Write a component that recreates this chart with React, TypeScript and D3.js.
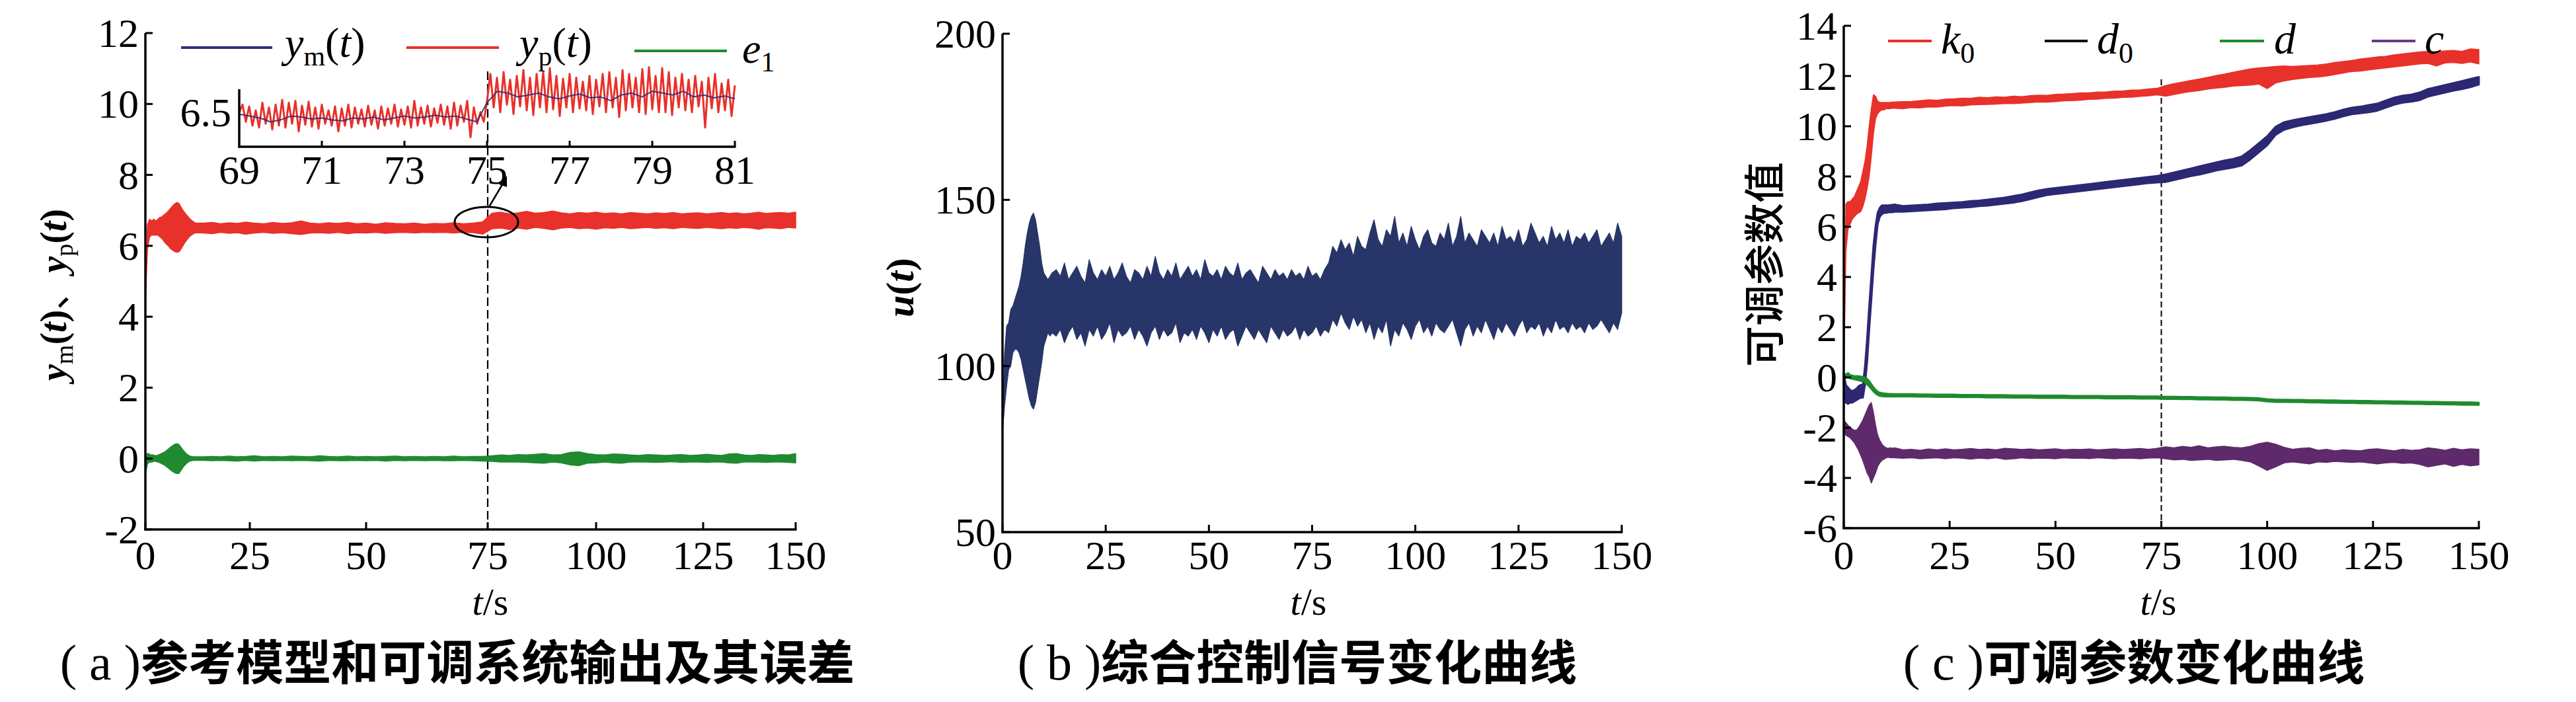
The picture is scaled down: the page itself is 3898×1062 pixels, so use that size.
import React from 'react';
import * as d3 from 'd3';

// ---------- DATA ----------
const T_MAIN = [0,0.5,1,1.5,2,2.5,3,3.5,4,4.5,5,5.5,6,6.5,7,7.5,8,8.5,9,9.5,10,10.5,11,11.5,12,14,16,18,20,22,24,26,28,30,32,34,36,38,40,42,44,46,48,50,52,54,56,58,60,62,64,66,68,70,72,74,76,78,80,82,84,86,88,90,92,94,96,98,100,102,104,106,108,110,112,114,116,118,120,122,124,126,128,130,132,134,136,138,140,142,144,146,148,150];

const T_U = [0,0.5,1,1.5,2,2.5,3,3.5,4,4.5,5,5.5,6,6.5,7,7.5,8,8.5,9,9.5,10,10.5,11,11.5,12,13,14,15,16,17,18,19,20,21,22,23,24,25,26,27,28,29,30,31,32,33,34,35,36,37,38,39,40,41,42,43,44,45,46,47,48,49,50,51,52,53,54,55,56,57,58,59,60,61,62,63,64,65,66,67,68,69,70,71,72,73,74,75,76,77,78,79,80,81,82,83,84,85,86,87,88,89,90,91,92,93,94,95,96,97,98,99,100,101,102,103,104,105,106,107,108,109,110,111,112,113,114,115,116,117,118,119,120,121,122,123,124,125,126,127,128,129,130,131,132,133,134,135,136,137,138,139,140,141,142,143,144,145,146,147,148,149,150];

// (a) y_p(t) envelope
const YP_HI = [4.6,6.6,6.75,6.7,6.75,6.7,6.75,6.8,6.82,6.88,6.92,6.98,7.05,7.12,7.18,7.22,7.2,7.1,7.0,6.92,6.85,6.78,6.72,6.68,6.64,
  6.64,6.66,6.62,6.65,6.63,6.67,6.64,6.62,6.66,6.63,6.65,6.70,6.64,6.62,6.65,6.63,6.66,6.62,6.64,6.61,6.65,6.63,6.62,6.64,6.61,6.63,6.62,6.65,6.62,6.64,6.68,
  6.92,6.95,6.9,6.93,6.97,6.92,6.94,6.98,6.93,6.9,6.94,6.92,6.95,6.91,6.93,6.9,6.94,6.92,6.9,6.93,6.91,6.94,6.9,6.92,6.93,6.9,6.92,6.94,6.91,6.93,6.9,6.92,6.95,6.91,6.93,6.94,6.92,6.95];
const YP_LO = [4.4,5.9,6.25,6.3,6.3,6.3,6.3,6.25,6.2,6.12,6.05,6.0,5.92,5.88,5.84,5.82,5.83,5.9,6.0,6.1,6.18,6.25,6.3,6.34,6.37,
  6.36,6.34,6.38,6.35,6.37,6.33,6.36,6.38,6.35,6.37,6.34,6.32,6.36,6.37,6.35,6.38,6.34,6.37,6.36,6.38,6.35,6.37,6.38,6.36,6.38,6.37,6.38,6.36,6.38,6.37,6.33,
  6.48,6.5,6.46,6.5,6.47,6.52,6.49,6.45,6.5,6.52,6.48,6.5,6.47,6.51,6.49,6.52,6.48,6.5,6.52,6.49,6.51,6.48,6.52,6.5,6.49,6.52,6.5,6.48,6.51,6.49,6.52,6.5,6.47,6.51,6.5,6.48,6.52,6.5];
// (a) e1 envelope
const E1_HI = [0.0,0.15,0.12,0.1,0.1,0.08,0.1,0.12,0.15,0.18,0.22,0.27,0.32,0.36,0.4,0.42,0.4,0.32,0.24,0.17,0.12,0.08,0.06,0.05,0.05,
  0.05,0.06,0.05,0.07,0.05,0.06,0.08,0.05,0.06,0.05,0.07,0.06,0.05,0.08,0.06,0.05,0.07,0.05,0.06,0.05,0.06,0.07,0.05,0.06,0.05,0.06,0.05,0.07,0.05,0.06,0.06,
  0.08,0.1,0.09,0.11,0.1,0.12,0.14,0.1,0.11,0.17,0.19,0.14,0.11,0.1,0.13,0.12,0.1,0.09,0.11,0.1,0.09,0.1,0.11,0.09,0.1,0.12,0.1,0.09,0.13,0.14,0.1,0.09,0.11,0.1,0.09,0.11,0.1,0.14];
const E1_LO = [-0.45,-0.15,-0.1,-0.1,-0.08,-0.08,-0.1,-0.12,-0.15,-0.18,-0.22,-0.27,-0.32,-0.36,-0.4,-0.42,-0.42,-0.34,-0.25,-0.18,-0.12,-0.08,-0.06,-0.05,-0.05,
  -0.05,-0.06,-0.05,-0.06,-0.07,-0.05,-0.07,-0.05,-0.06,-0.05,-0.06,-0.05,-0.06,-0.07,-0.05,-0.06,-0.06,-0.05,-0.06,-0.05,-0.07,-0.05,-0.06,-0.05,-0.06,-0.05,-0.06,-0.06,-0.05,-0.06,-0.07,
  -0.08,-0.1,-0.1,-0.1,-0.11,-0.12,-0.13,-0.1,-0.12,-0.18,-0.2,-0.13,-0.12,-0.1,-0.12,-0.13,-0.1,-0.1,-0.1,-0.11,-0.1,-0.09,-0.11,-0.1,-0.1,-0.11,-0.1,-0.1,-0.12,-0.13,-0.1,-0.1,-0.1,-0.11,-0.1,-0.1,-0.11,-0.12];

// (a) inset: y_p(t) sampled every 0.08 s from 69 s, y_m(t) every 0.25 s
const INSET_T0 = 69;
const INSET_YP_DT = 0.08;
const INSET_YP = [6.50,6.58,6.40,6.56,6.36,6.52,6.34,6.60,6.38,6.55,6.32,6.58,6.36,6.63,6.34,6.60,6.38,6.62,6.30,6.57,6.37,6.61,6.35,6.55,6.33,6.58,6.38,6.52,6.36,6.56,6.30,6.54,6.36,6.58,6.34,6.55,6.38,6.53,6.35,6.57,6.37,6.52,6.33,6.56,6.36,6.54,6.38,6.58,6.35,6.53,6.37,6.56,6.34,6.62,6.36,6.55,6.38,6.57,6.35,6.54,6.39,6.58,6.37,6.56,6.33,6.60,6.36,6.57,6.40,6.62,6.24,6.55,6.38,6.50,6.40,
  6.62,
  6.90,6.55,6.86,6.50,6.92,6.58,6.84,6.48,6.88,6.56,
  6.94,6.52,6.86,6.47,6.90,6.55,6.92,6.50,6.96,6.53,
  6.88,6.46,6.85,6.55,6.90,6.50,6.86,6.54,6.82,6.52,
  6.88,6.48,6.84,6.56,6.90,6.50,6.92,6.55,6.86,6.45,
  6.94,6.52,6.90,6.55,6.86,6.50,6.95,6.48,6.97,6.53,
  6.88,6.50,6.96,6.50,6.92,6.47,6.86,6.55,6.90,6.52,
  6.84,6.50,6.88,6.56,6.82,6.34,6.86,6.54,6.90,6.50,
  6.80,6.52,6.84,6.46,6.78];
const INSET_YM_DT = 0.25;
const INSET_YM = [6.48,6.46,6.44,6.40,6.42,6.46,6.45,6.43,6.44,6.42,6.41,6.44,6.43,6.45,6.42,6.44,6.46,6.44,6.45,6.47,6.45,6.46,6.43,6.40,
  6.60,
  6.72,6.70,6.66,6.68,6.70,6.66,6.64,6.67,6.69,6.65,6.66,6.62,6.68,6.70,6.66,6.72,6.70,6.68,6.72,6.66,6.68,6.65,6.67,6.64];

// (b) u(t) envelope
const U_HI = [86,104,112,113,117,118,120,122,124,127,131,136,140,143,145,146,144,140,136,131,128,127,126,127,128,
  129,127,131,126,128,130,127,125,132,128,126,129,127,130,126,128,131,127,125,129,128,126,130,127,133,128,126,129,127,131,126,128,130,127,129,126,132,128,127,129,126,130,128,127,131,126,128,129,127,125,130,128,126,129,127,128,126,129,127,128,126,130,127,128,126,129,131,
  136,134,138,135,137,133,139,136,135,140,144,138,136,141,139,145,137,140,136,142,138,135,139,141,137,136,140,138,143,136,139,145,137,140,138,136,141,139,137,140,136,142,138,139,137,141,136,138,143,140,137,139,136,142,138,140,137,141,136,139,138,140,137,139,141,136,138,140,137,143,139];
const U_LO = [80,88,94,99,100,104,105,105,104,102,99,96,93,90,88,87,89,93,97,101,106,108,110,109,110,
  109,111,107,110,112,108,110,106,111,109,112,108,110,113,107,111,109,110,112,108,111,109,106,110,112,108,111,109,110,113,107,110,109,111,108,112,110,107,111,109,112,108,110,111,106,109,112,110,108,111,109,107,112,110,108,111,109,110,112,108,111,109,110,112,109,111,110,
  114,112,116,113,111,115,112,114,110,113,108,112,110,114,106,111,109,113,111,108,112,114,110,112,109,113,111,110,112,114,110,106,111,113,109,112,110,114,111,108,112,110,113,111,109,112,114,110,112,111,113,109,112,110,114,111,112,110,113,111,112,110,113,111,112,114,112,110,113,111,116];

// (c) adjustable parameters envelopes
const K0_HI = [0.3,6.9,7.0,7.0,7.1,7.2,7.4,7.6,7.8,8.2,8.6,9.2,10.0,10.7,11.25,11.2,11.0,10.95,10.95,10.95,10.95,10.95,10.95,10.97,10.97,
  10.98,10.99,11.02,11.05,11.03,11.08,11.09,11.12,11.11,11.16,11.14,11.17,11.16,11.20,11.18,11.22,11.24,11.23,11.27,11.28,11.30,11.33,11.33,11.36,11.37,11.40,11.41,11.44,11.45,11.49,11.51,
  11.62,11.70,11.76,11.82,11.88,11.95,12.02,12.08,12.15,12.22,12.28,12.32,12.35,12.38,12.40,12.38,12.40,12.42,12.44,12.48,12.54,12.58,12.62,12.68,12.72,12.76,12.78,12.84,12.88,12.92,12.96,12.98,12.96,13.00,13.02,12.98,13.08,13.05];
const K0_LO = [0,5.0,5.9,6.1,6.3,6.4,6.5,6.55,6.6,6.8,7.1,7.5,8.0,8.8,9.7,10.3,10.5,10.6,10.65,10.65,10.7,10.7,10.7,10.72,10.72,
  10.70,10.74,10.73,10.77,10.76,10.80,10.82,10.81,10.85,10.86,10.87,10.88,10.90,10.90,10.92,10.94,10.97,10.96,10.98,11.01,11.02,11.04,11.07,11.08,11.11,11.12,11.15,11.16,11.19,11.21,11.25,
  11.20,11.26,11.33,11.38,11.42,11.48,11.52,11.55,11.60,11.62,11.64,11.68,11.50,11.72,11.80,11.86,11.90,11.94,11.96,12.00,12.06,12.12,12.18,12.20,12.24,12.28,12.32,12.36,12.40,12.44,12.48,12.50,12.40,12.52,12.54,12.50,12.56,12.48];
const D0_HI = [0.1,-0.3,-0.4,-0.5,-0.55,-0.5,-0.45,-0.35,-0.3,-0.3,0.4,1.5,2.8,4.0,5.2,6.0,6.55,6.75,6.85,6.85,6.85,6.85,6.86,6.87,6.88,
  6.82,6.84,6.86,6.88,6.92,6.94,6.96,6.98,7.02,7.04,7.08,7.12,7.16,7.22,7.28,7.36,7.44,7.50,7.54,7.58,7.62,7.66,7.70,7.74,7.78,7.82,7.86,7.90,7.94,7.98,8.02,
  8.08,8.16,8.24,8.32,8.40,8.48,8.56,8.64,8.70,8.80,9.04,9.32,9.60,9.98,10.16,10.24,10.30,10.36,10.42,10.48,10.56,10.66,10.74,10.78,10.84,10.90,11.02,11.14,11.22,11.26,11.34,11.48,11.56,11.64,11.72,11.80,11.88,11.96];
const D0_LO = [-0.3,-1.0,-1.05,-1.0,-1.0,-0.95,-0.9,-0.85,-0.8,-0.8,-0.3,0.6,1.9,3.1,4.3,5.3,6.1,6.4,6.5,6.55,6.55,6.57,6.58,6.58,6.6,
  6.60,6.62,6.64,6.66,6.68,6.70,6.74,6.76,6.78,6.82,6.84,6.88,6.92,6.96,7.02,7.10,7.18,7.26,7.30,7.34,7.38,7.42,7.46,7.50,7.54,7.58,7.62,7.66,7.70,7.74,7.76,
  7.78,7.86,7.94,8.02,8.08,8.16,8.24,8.30,8.36,8.44,8.68,8.96,9.24,9.66,9.86,9.96,10.04,10.10,10.16,10.22,10.30,10.40,10.48,10.52,10.56,10.62,10.74,10.86,10.94,10.98,11.04,11.18,11.26,11.34,11.42,11.48,11.56,11.66];
const D_HI = [0.15,0.12,0.18,0.1,0.08,0.05,0.06,0.05,0.04,0.02,0.0,-0.05,-0.14,-0.26,-0.38,-0.48,-0.56,-0.6,-0.62,-0.63,-0.64,-0.65,-0.65,-0.66,-0.66,
  -0.66,-0.66,-0.67,-0.67,-0.68,-0.68,-0.68,-0.69,-0.69,-0.69,-0.70,-0.70,-0.70,-0.71,-0.71,-0.71,-0.72,-0.72,-0.72,-0.72,-0.73,-0.73,-0.73,-0.73,-0.74,-0.74,-0.74,-0.74,-0.75,-0.75,-0.75,
  -0.76,-0.76,-0.77,-0.77,-0.78,-0.78,-0.79,-0.79,-0.80,-0.80,-0.81,-0.82,-0.86,-0.88,-0.88,-0.89,-0.89,-0.90,-0.90,-0.91,-0.91,-0.92,-0.92,-0.93,-0.93,-0.94,-0.94,-0.95,-0.95,-0.96,-0.96,-0.97,-0.97,-0.98,-0.98,-0.99,-0.99,-1.00];
const D_LO = [0.0,-0.02,0.02,-0.04,-0.06,-0.08,-0.1,-0.12,-0.14,-0.16,-0.2,-0.28,-0.36,-0.46,-0.56,-0.64,-0.7,-0.74,-0.75,-0.76,-0.76,-0.76,-0.76,-0.76,-0.76,
  -0.76,-0.76,-0.77,-0.77,-0.78,-0.78,-0.78,-0.79,-0.79,-0.79,-0.80,-0.80,-0.80,-0.81,-0.81,-0.81,-0.82,-0.82,-0.82,-0.82,-0.83,-0.83,-0.83,-0.83,-0.84,-0.84,-0.84,-0.84,-0.85,-0.85,-0.85,
  -0.86,-0.86,-0.87,-0.87,-0.88,-0.88,-0.89,-0.89,-0.90,-0.90,-0.91,-0.92,-0.96,-0.98,-0.98,-0.99,-0.99,-1.00,-1.00,-1.01,-1.01,-1.02,-1.02,-1.03,-1.03,-1.04,-1.04,-1.05,-1.05,-1.06,-1.06,-1.07,-1.07,-1.08,-1.08,-1.09,-1.09,-1.10];
const C_HI = [-1.7,-1.8,-1.9,-2.0,-2.05,-2.1,-2.1,-2.0,-1.85,-1.7,-1.5,-1.3,-1.1,-1.0,-1.4,-1.9,-2.3,-2.5,-2.65,-2.75,-2.8,-2.82,-2.8,-2.82,-2.8,
  -2.88,-2.86,-2.90,-2.85,-2.88,-2.84,-2.88,-2.86,-2.83,-2.87,-2.85,-2.88,-2.82,-2.84,-2.87,-2.85,-2.88,-2.86,-2.84,-2.88,-2.86,-2.87,-2.85,-2.88,-2.86,-2.84,-2.87,-2.85,-2.83,-2.86,-2.82,
  -2.76,-2.80,-2.74,-2.78,-2.72,-2.80,-2.76,-2.74,-2.78,-2.80,-2.74,-2.64,-2.58,-2.66,-2.78,-2.86,-2.82,-2.80,-2.90,-2.86,-2.92,-2.88,-2.90,-2.92,-2.86,-2.84,-2.88,-2.92,-2.86,-2.90,-2.88,-2.80,-2.84,-2.90,-2.82,-2.88,-2.84,-2.86];
const C_LO = [-2.1,-2.3,-2.35,-2.4,-2.5,-2.6,-2.75,-2.9,-3.1,-3.3,-3.55,-3.8,-3.95,-4.2,-4.0,-3.8,-3.55,-3.4,-3.3,-3.25,-3.2,-3.18,-3.2,-3.2,-3.2,
  -3.22,-3.20,-3.24,-3.22,-3.20,-3.24,-3.20,-3.22,-3.25,-3.21,-3.24,-3.20,-3.26,-3.24,-3.20,-3.23,-3.21,-3.22,-3.24,-3.20,-3.22,-3.21,-3.23,-3.20,-3.22,-3.24,-3.21,-3.22,-3.24,-3.21,-3.20,
  -3.24,-3.28,-3.26,-3.30,-3.28,-3.26,-3.30,-3.28,-3.26,-3.30,-3.36,-3.52,-3.70,-3.56,-3.40,-3.36,-3.40,-3.44,-3.36,-3.38,-3.34,-3.36,-3.38,-3.36,-3.40,-3.44,-3.40,-3.38,-3.42,-3.40,-3.46,-3.56,-3.50,-3.44,-3.54,-3.46,-3.52,-3.48];

// ticks
const X_TICKS = [0, 25, 50, 75, 100, 125, 150];
const YA_TICKS = [-2, 0, 2, 4, 6, 8, 10, 12];
const YB_TICKS = [50, 100, 150, 200];
const YC_TICKS = [-6, -4, -2, 0, 2, 4, 6, 8, 10, 12, 14];
const INSET_X_TICKS = [69, 71, 73, 75, 77, 79, 81];
const INSET_Y_LABEL = 6.5;
const MARK_T = 75;

const CAPTIONS = ['参考模型和可调系统输出及其误差', '综合控制信号变化曲线', '可调参数变化曲线'];

// ---------- STYLE ----------
const SERIF = "'Liberation Serif','Times New Roman',serif";
const CJK = "'Noto Sans CJK SC','Noto Sans CJK JP',sans-serif";
const RED = '#e8312a';
const NAVY = '#2b2f78';
const UNAVY = '#283568';
const D0C = '#2c2874';
const GREEN = '#1f8a2f';
const PURPLE = '#5e2a6c';
const TICK_FS = 62;
const XLAB_Y = 861;
const TS_Y = 930;

type Sc = d3.ScaleLinear<number, number>;

function bandPath(t: number[], hi: number[], lo: number[], x: Sc, y: Sc) {
  const n = Math.min(t.length, hi.length, lo.length);
  const idx = d3.range(n);
  return d3.area<number>().x(i => x(t[i])).y0(i => y(lo[i])).y1(i => y(hi[i]))(idx) || '';
}

function Band({ t, hi, lo, x, y, color, sw = 1.5 }: any) {
  return <path d={bandPath(t, hi, lo, x, y)} fill={color} stroke={color} strokeWidth={sw} strokeLinejoin="round" />;
}

function Axes({ x, y, xTicks, yTicks }: any) {
  const x0 = x(xTicks[0]);
  const x1 = x(xTicks[xTicks.length - 1]);
  const yb = y(yTicks[0]);
  const yt = y(yTicks[yTicks.length - 1]);
  return (
    <g fontFamily={SERIF} fontSize={TICK_FS} fill="#000">
      <line x1={x0} y1={yb + 1.5} x2={x0} y2={yt} stroke="#000" strokeWidth={3.5} />
      <line x1={x0 - 1.5} y1={yb} x2={x1 + 1.5} y2={yb} stroke="#000" strokeWidth={3.5} />
      {yTicks.map((v: number) => (
        <g key={'y' + v}>
          <line x1={x0} x2={x0 + 11} y1={y(v)} y2={y(v)} stroke="#000" strokeWidth={3} />
          <text x={x0 - 10} y={y(v)} textAnchor="end" dominantBaseline="central">{String(v)}</text>
        </g>
      ))}
      {xTicks.map((v: number) => (
        <g key={'x' + v}>
          <line x1={x(v)} x2={x(v)} y1={yb} y2={yb - 11} stroke="#000" strokeWidth={3} />
          <text x={x(v)} y={XLAB_Y} textAnchor="middle">{String(v)}</text>
        </g>
      ))}
    </g>
  );
}

function TS({ x }: { x: number }) {
  return (
    <text x={x} y={TS_Y} textAnchor="middle" fontFamily={SERIF} fontSize={58}>
      <tspan fontStyle="italic">t</tspan>/s
    </text>
  );
}

function Caption({ x, letter, text }: any) {
  return (
    <text x={x} y={1028} textAnchor="middle" fontSize={72}>
      <tspan fontFamily={SERIF} fontSize={76}>{'( ' + letter + ' )'}</tspan>
      <tspan fontFamily={CJK} fontWeight={700}>{text}</tspan>
    </text>
  );
}

export default function App() {
  // panel (a)
  const xa = d3.scaleLinear().domain(X_TICKS).range([220, 378, 554, 738, 902, 1064, 1204]);
  const ya = d3.scaleLinear().domain([-2, 12]).range([801, 50]);
  const xi = d3.scaleLinear().domain([69, 81]).range([362, 1112]);
  const yi = d3.scaleLinear().domain([6.14, 6.74]).range([222, 135]);
  // panel (b)
  const xb = d3.scaleLinear().domain([0, 150]).range([1517, 2454]);
  const yb = d3.scaleLinear().domain([50, 200]).range([805, 51]);
  // panel (c)
  const xc = d3.scaleLinear().domain([0, 150]).range([2790, 3751]);
  const yc = d3.scaleLinear().domain([-6, 14]).range([799, 39]);

  const insetYp = d3.line<number>().x((v, i) => xi(INSET_T0 + i * INSET_YP_DT)).y(v => yi(v))(INSET_YP) || '';
  const insetYm = d3.line<number>().x((v, i) => xi(INSET_T0 + i * INSET_YM_DT)).y(v => yi(v))(INSET_YM) || '';

  const legA = [
    { x1: 274, x2: 412, y: 72, c: NAVY, tx: 431, ty: 86, base: 'y', sub: 'm', paren: true },
    { x1: 615, x2: 755, y: 72, c: RED, tx: 786, ty: 86, base: 'y', sub: 'p', paren: true },
    { x1: 960, x2: 1100, y: 77, c: GREEN, tx: 1123, ty: 95, base: 'e', sub: '1', paren: false },
  ];
  const legC = [
    { x1: 2857, x2: 2923, c: RED, tx: 2937, base: 'k', sub: '0' },
    { x1: 3094, x2: 3159, c: '#111', tx: 3173, base: 'd', sub: '0' },
    { x1: 3359, x2: 3426, c: GREEN, tx: 3441, base: 'd', sub: '' },
    { x1: 3589, x2: 3655, c: '#6d3a82', tx: 3669, base: 'c', sub: '' },
  ];

  return (
    <svg width={3898} height={1062} viewBox="0 0 3898 1062"
      style={{ position: 'absolute', left: 0, top: 0, background: '#fff', display: 'block' }}>
      <rect x={0} y={0} width={3898} height={1062} fill="#fff" />

      {/* ================= PANEL A ================= */}
      <line x1={xa(MARK_T)} x2={xa(MARK_T)} y1={108} y2={ya(-2)} stroke="#000" strokeWidth={2.2} strokeDasharray="13 6" />
      <Band t={T_MAIN} hi={YP_HI} lo={YP_LO} x={xa} y={ya} color={RED} />
      <Band t={T_MAIN} hi={E1_HI} lo={E1_LO} x={xa} y={ya} color={GREEN} />
      <Axes x={xa} y={ya} xTicks={X_TICKS} yTicks={YA_TICKS} />
      {/* ellipse + arrow */}
      <ellipse cx={736} cy={336} rx={48} ry={23} fill="none" stroke="#000" strokeWidth={3} />
      <line x1={740} y1={313} x2={762} y2={276} stroke="#000" strokeWidth={2.5} />
      <path d="M767,266 L755,279 L767,283 Z" fill="#000" />
      {/* inset */}
      <path d={insetYp} fill="none" stroke={RED} strokeWidth={3} strokeLinejoin="round" />
      <path d={insetYm} fill="none" stroke={NAVY} strokeWidth={2} strokeLinejoin="round" opacity={0.9} />
      <g fontFamily={SERIF} fontSize={TICK_FS}>
        <line x1={xi(69)} x2={xi(69)} y1={yi(6.14) + 1.5} y2={135} stroke="#000" strokeWidth={3.5} />
        <line x1={xi(69) - 1.5} x2={xi(81) + 1.5} y1={yi(6.14)} y2={yi(6.14)} stroke="#000" strokeWidth={3.5} />
        {INSET_X_TICKS.map(v => (
          <g key={v}>
            {v !== 69 && <line x1={xi(v)} x2={xi(v)} y1={yi(6.14)} y2={yi(6.14) - 9} stroke="#000" strokeWidth={3} />}
            <text x={xi(v)} y={278} textAnchor="middle">{String(v)}</text>
          </g>
        ))}
        <text x={350} y={yi(INSET_Y_LABEL)} textAnchor="end" dominantBaseline="central">{String(INSET_Y_LABEL)}</text>
      </g>
      {/* legend a */}
      {legA.map((l, i) => (
        <g key={i}>
          <line x1={l.x1} x2={l.x2} y1={l.y} y2={l.y} stroke={l.c} strokeWidth={4} />
          <text x={l.tx} y={l.ty} fontFamily={SERIF} fontSize={64}>
            <tspan fontStyle="italic">{l.base}</tspan>
            <tspan fontSize={42} dy={13}>{l.sub}</tspan>
            {l.paren && <tspan dy={-13}>(</tspan>}
            {l.paren && <tspan fontStyle="italic">t</tspan>}
            {l.paren && <tspan>)</tspan>}
          </text>
        </g>
      ))}
      {/* y label a */}
      <text transform="translate(100,446) rotate(-90)" textAnchor="middle" fontFamily={SERIF} fontSize={56} fontWeight="bold">
        <tspan fontStyle="italic">y</tspan>
        <tspan fontSize={38} dy={10} fontWeight="normal">m</tspan>
        <tspan dy={-10}>(</tspan>
        <tspan fontStyle="italic">t</tspan>
        <tspan>)</tspan>
        <tspan fontFamily={CJK} fontWeight="normal">、</tspan>
        <tspan fontStyle="italic">y</tspan>
        <tspan fontSize={38} dy={10} fontWeight="normal">p</tspan>
        <tspan dy={-10}>(</tspan>
        <tspan fontStyle="italic">t</tspan>
        <tspan>)</tspan>
      </text>
      <TS x={742} />
      <Caption x={692} letter="a" text={CAPTIONS[0]} />

      {/* ================= PANEL B ================= */}
      <Band t={T_U} hi={U_HI} lo={U_LO} x={xb} y={yb} color={UNAVY} sw={1.2} />
      <Axes x={xb} y={yb} xTicks={X_TICKS} yTicks={YB_TICKS} />
      <text transform="translate(1382,435) rotate(-90)" textAnchor="middle" fontFamily={SERIF} fontSize={60} fontWeight="bold">
        <tspan fontStyle="italic">u</tspan>(<tspan fontStyle="italic">t</tspan>)
      </text>
      <TS x={1980} />
      <Caption x={1963} letter="b" text={CAPTIONS[1]} />

      {/* ================= PANEL C ================= */}
      <line x1={xc(MARK_T)} x2={xc(MARK_T)} y1={120} y2={yc(-6)} stroke="#000" strokeWidth={2} strokeDasharray="9 5" />
      <Band t={T_MAIN} hi={K0_HI} lo={K0_LO} x={xc} y={yc} color={RED} />
      <Band t={T_MAIN} hi={D0_HI} lo={D0_LO} x={xc} y={yc} color={D0C} sw={3} />
      <Band t={T_MAIN} hi={C_HI} lo={C_LO} x={xc} y={yc} color={PURPLE} />
      <Band t={T_MAIN} hi={D_HI} lo={D_LO} x={xc} y={yc} color={GREEN} sw={2.5} />
      <Axes x={xc} y={yc} xTicks={X_TICKS} yTicks={YC_TICKS} />
      {legC.map((l, i) => (
        <g key={i}>
          <line x1={l.x1} x2={l.x2} y1={62} y2={62} stroke={l.c} strokeWidth={4} />
          <text x={l.tx} y={81} fontFamily={SERIF} fontSize={66}>
            <tspan fontStyle="italic">{l.base}</tspan>
            {l.sub && <tspan fontSize={44} dy={14}>{l.sub}</tspan>}
          </text>
        </g>
      ))}
      <text transform="translate(2666,400) rotate(-90)" textAnchor="middle" dominantBaseline="central" fontFamily={CJK} fontSize={62} fontWeight={500}>
        可调参数值
      </text>
      <TS x={3266} />
      <Caption x={3229} letter="c" text={CAPTIONS[2]} />
    </svg>
  );
}
